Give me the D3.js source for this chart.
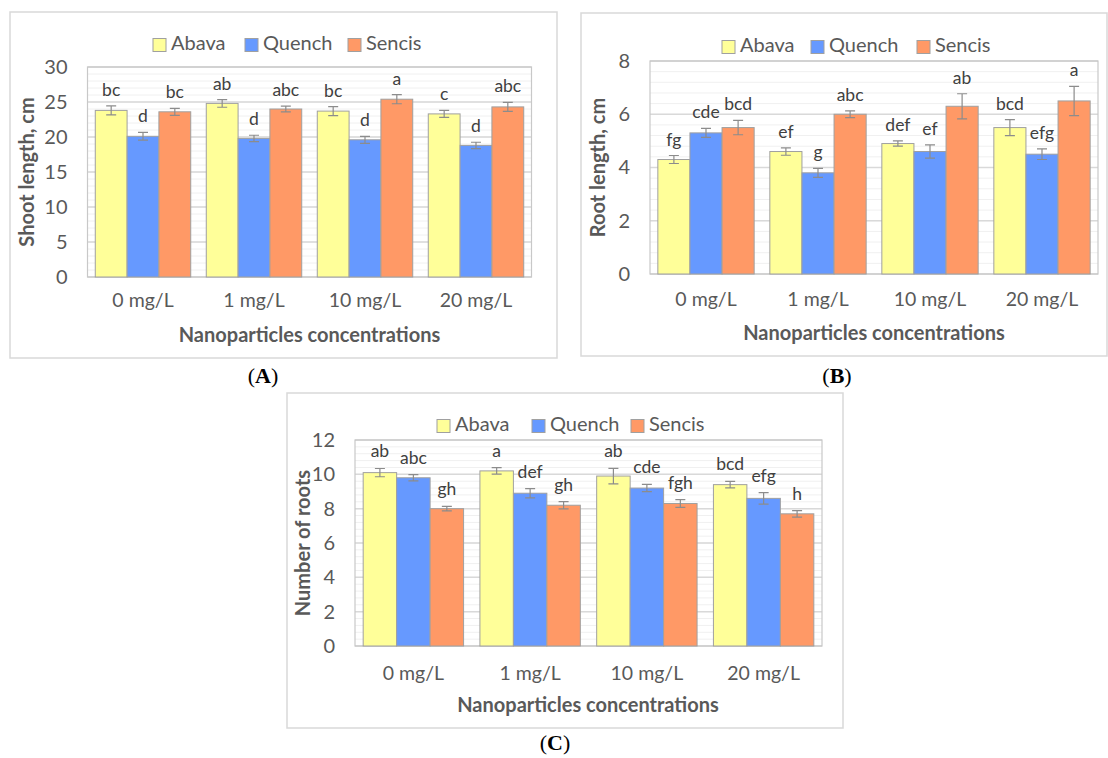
<!DOCTYPE html>
<html lang="en">
<head>
  <title>Shoot, root length and number of roots</title>
  <script src="https://cdn.jsdelivr.net/npm/d3@7"></script>
  <style>
    body { margin: 0; background: #fff; }
    text { font-family: Lato, "Open Sans", sans-serif; }
    text.caption { font-family: "Liberation Serif", "DejaVu Serif", serif; }
  </style>
</head>
<body>
  <script>
    // categories and series
    const concentrations = ["0 mg/L", "1 mg/L", "10 mg/L", "20 mg/L"];
    const cultivars = ["Abava", "Quench", "Sencis"];
    const colors = ["#ffff99", "#6699ff", "#ff9966"];

    // (A) shoot length, cm  — rows: Abava, Quench, Sencis
    const shootMeans = [[23.8, 24.8, 23.7, 23.3], [20.1, 19.8, 19.6, 18.8], [23.6, 24.0, 25.4, 24.3]];
    const shootErrors = [[0.65, 0.55, 0.65, 0.5], [0.55, 0.45, 0.5, 0.45], [0.5, 0.4, 0.65, 0.65]];
    const shootLetters = [["bc", "ab", "bc", "c"], ["d", "d", "d", "d"], ["bc", "abc", "a", "abc"]];
    const shootTicks = [0, 5, 10, 15, 20, 25, 30];

    // (B) root length, cm
    const rootMeans = [[4.3, 4.6, 4.9, 5.5], [5.3, 3.8, 4.6, 4.5], [5.5, 6.0, 6.3, 6.5]];
    const rootErrors = [[0.15, 0.14, 0.1, 0.3], [0.17, 0.17, 0.25, 0.2], [0.27, 0.13, 0.47, 0.55]];
    const rootLetters = [["fg", "ef", "def", "bcd"], ["cde", "g", "ef", "efg"], ["bcd", "abc", "ab", "a"]];
    const rootTicks = [0, 2, 4, 6, 8];

    // (C) number of roots
    const numberMeans = [[10.1, 10.2, 9.9, 9.4], [9.8, 8.9, 9.2, 8.6], [8.0, 8.2, 8.3, 7.7]];
    const numberErrors = [[0.24, 0.19, 0.45, 0.19], [0.18, 0.27, 0.21, 0.34], [0.13, 0.21, 0.23, 0.19]];
    const numberLetters = [["ab", "a", "ab", "bcd"], ["abc", "def", "cde", "efg"], ["gh", "gh", "fgh", "h"]];
    const numberTicks = [0, 2, 4, 6, 8, 10, 12];

    const svg = d3.select("body").append("svg")
      .attr("width", 1108).attr("height", 758);

    function drawPanel(p) {
      // outer frame
      svg.append("rect")
        .attr("x", p.box[0]).attr("y", p.box[1])
        .attr("width", p.box[2] - p.box[0]).attr("height", p.box[3] - p.box[1])
        .attr("fill", "#fff").attr("stroke", "#d9d9d9").attr("stroke-width", 1.5);

      let g = svg.append("g");
      let yScale = d3.scaleLinear()
        .domain([0, d3.max(p.ticks)])
        .range([p.bottom, p.top]);
      let xScale = d3.scaleBand()
        .domain(concentrations)
        .range([p.left, p.right])
        .paddingInner(0.14).paddingOuter(0.07);
      let xSub = d3.scaleBand()
        .domain(cultivars)
        .range([0, xScale.bandwidth()]);

      // minor grid
      let step = p.ticks[1] - p.ticks[0];
      let minor = d3.range(0, d3.max(p.ticks) + 1e-9, step / 5);
      g.selectAll(".minor").data(minor).join("line")
        .attr("x1", p.left).attr("x2", p.right)
        .attr("y1", d => yScale(d)).attr("y2", d => yScale(d))
        .attr("stroke", "#f0f0f0").attr("stroke-width", 1);
      // major grid
      g.selectAll(".major").data(p.ticks).join("line")
        .attr("x1", p.left).attr("x2", p.right)
        .attr("y1", d => yScale(d)).attr("y2", d => yScale(d))
        .attr("stroke", "#d9d9d9").attr("stroke-width", 1.5);
      // plot frame
      g.append("rect")
        .attr("x", p.left).attr("y", p.top)
        .attr("width", p.right - p.left).attr("height", p.bottom - p.top)
        .attr("fill", "none").attr("stroke", "#c8c8c8").attr("stroke-width", 1.2);

      // bars
      cultivars.forEach((c, i) => {
        let rows = concentrations.map((k, j) => ({
          k: k, v: p.means[i][j], e: p.errors[i][j], l: p.letters[i][j]
        }));
        let x0 = d => xScale(d.k) + xSub(c);
        let xc = d => x0(d) + xSub.bandwidth() / 2;
        g.selectAll(".bar" + i).data(rows).join("rect")
          .attr("x", x0)
          .attr("y", d => yScale(d.v))
          .attr("width", xSub.bandwidth())
          .attr("height", d => p.bottom - yScale(d.v))
          .attr("fill", colors[i])
          .attr("stroke", "#a0a0a0").attr("stroke-width", 1);
        // error bars
        g.selectAll(".err" + i).data(rows).join("path")
          .attr("d", d => {
            let x = xc(d), y1 = yScale(d.v + d.e), y2 = yScale(d.v - d.e);
            return `M${x - 5},${y1}H${x + 5}M${x},${y1}V${y2}M${x - 5},${y2}H${x + 5}`;
          })
          .attr("fill", "none").attr("stroke", "#8c8c8c").attr("stroke-width", 1.2);
        // significance letters
        g.selectAll(".let" + i).data(rows).join("text")
          .attr("x", xc)
          .attr("y", d => yScale(d.v + d.e) - p.letterGap)
          .attr("text-anchor", "middle")
          .attr("font-size", 17.5).attr("fill", "#404040")
          .text(d => d.l);
      });

      // y axis labels
      let yAxis = d3.axisLeft(yScale).tickValues(p.ticks).tickSize(0).tickPadding(20);
      let yAxisG = svg.append("g")
        .attr("transform", `translate(${p.left}, 0)`)
        .call(yAxis);
      yAxisG.select(".domain").remove();
      yAxisG.selectAll("text").attr("font-size", 20).attr("fill", "#595959")
        .attr("font-family", "Lato, sans-serif");

      // x axis labels
      let xAxis = d3.axisBottom(xScale).tickSize(0).tickPadding(p.xPad);
      let xAxisG = svg.append("g")
        .attr("transform", `translate(0, ${p.bottom})`)
        .call(xAxis);
      xAxisG.select(".domain").remove();
      xAxisG.selectAll("text").attr("font-size", 19.5).attr("fill", "#595959")
        .attr("font-family", "Lato, sans-serif");

      // x title
      svg.append("text")
        .attr("x", (p.box[0] + p.box[2]) / 2 + p.titleShift).attr("y", p.xTitleY)
        .attr("text-anchor", "middle").attr("dominant-baseline", "middle")
        .attr("font-size", 20).attr("font-weight", "bold").attr("fill", "#595959")
        .text("Nanoparticles concentrations");
      // y title
      svg.append("g")
        .attr("transform", `translate(${p.yTitleX}, ${(p.top + p.bottom) / 2})`)
        .append("text").text(p.yTitle)
        .attr("text-anchor", "middle").attr("dominant-baseline", "middle")
        .attr("font-size", 20).attr("font-weight", "bold").attr("fill", "#595959")
        .attr("transform", "rotate(-90)");

      // legend
      cultivars.forEach((c, i) => {
        let lg = svg.append("g").attr("transform", `translate(${p.legendX[i]}, ${p.legendY})`);
        lg.append("rect").attr("x", 0).attr("y", -6.5).attr("width", 13).attr("height", 13)
          .attr("fill", colors[i]).attr("stroke", "#a0a0a0").attr("stroke-width", 1);
        lg.append("text").attr("x", 18).attr("y", 0)
          .attr("dominant-baseline", "middle")
          .attr("font-size", 20).attr("fill", "#595959").text(c);
      });

      // caption
      let cap = svg.append("text").attr("class", "caption")
        .attr("x", p.caption[0]).attr("y", p.caption[1])
        .attr("text-anchor", "middle").attr("dominant-baseline", "middle")
        .attr("font-size", 22).attr("fill", "#000");
      cap.append("tspan").text("(");
      cap.append("tspan").attr("font-weight", "bold").text(p.label);
      cap.append("tspan").text(")");
    }

    drawPanel({
      box: [10, 12, 557, 358], left: 87.5, right: 531.5, top: 67, bottom: 277,
      means: shootMeans, errors: shootErrors, letters: shootLetters, ticks: shootTicks,
      letterGap: 10, xPad: 16, xTitleY: 337, titleShift: 26, yTitleX: 29,
      yTitle: "Shoot length, cm", legendX: [153, 245, 348], legendY: 45,
      caption: [263, 378], label: "A"
    });
    drawPanel({
      box: [581, 13, 1107, 356], left: 650, right: 1098, top: 61, bottom: 274,
      means: rootMeans, errors: rootErrors, letters: rootLetters, ticks: rootTicks,
      letterGap: 10, xPad: 18, xTitleY: 335, titleShift: 30, yTitleX: 600,
      yTitle: "Root length, cm", legendX: [722, 811, 917], legendY: 47,
      caption: [837, 378], label: "B"
    });
    drawPanel({
      box: [287, 393, 843, 728], left: 355, right: 822, top: 440, bottom: 646,
      means: numberMeans, errors: numberErrors, letters: numberLetters, ticks: numberTicks,
      letterGap: 11, xPad: 20, xTitleY: 707, titleShift: 23, yTitleX: 305,
      yTitle: "Number of roots", legendX: [437, 532, 631], legendY: 426,
      caption: [555, 745], label: "C"
    });
  </script>
</body>
</html>
